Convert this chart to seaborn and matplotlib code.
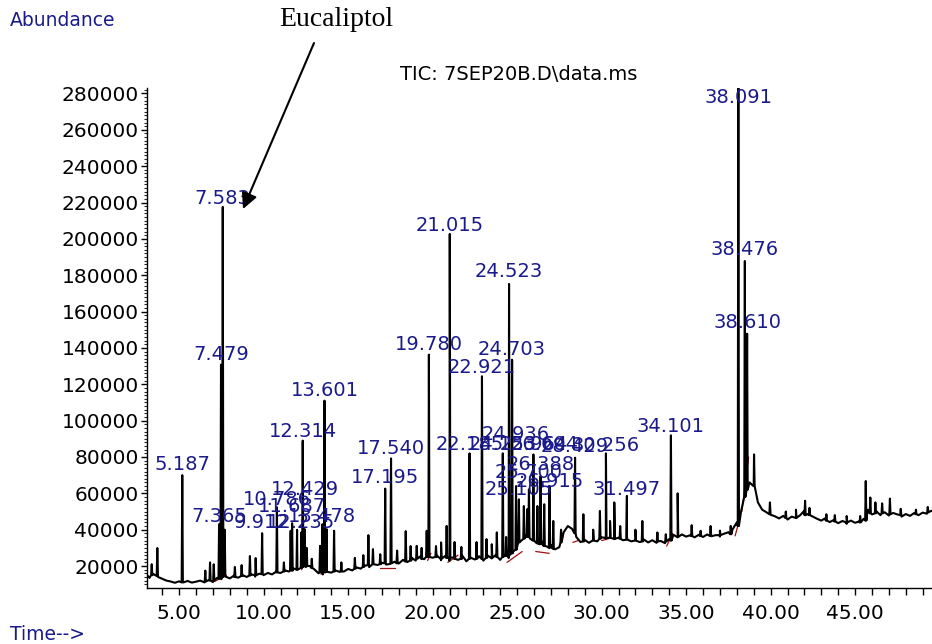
import numpy as np
import pandas as pd
import matplotlib
matplotlib.use('Agg')
import matplotlib.pyplot as plt
from matplotlib.ticker import MultipleLocator, FormatStrFormatter
import seaborn as sns

# noisy baseline of the TIC trace (time in min, abundance)
base_t = [3.00, 3.25, 3.50, 3.75, 4.00, 4.25, 4.50, 4.75, 5.00, 5.25,
          5.50, 5.75, 6.00, 6.25, 6.50, 6.75, 7.00, 7.25, 7.50, 7.75,
          8.00, 8.25, 8.50, 8.75, 9.00, 9.25, 9.50, 9.75, 10.00, 10.25,
          10.50, 10.75, 11.00, 11.25, 11.50, 11.75, 12.00, 12.25, 12.50, 12.75,
          13.00, 13.25, 13.50, 13.75, 14.00, 14.25, 14.50, 14.75, 15.00, 15.25,
          15.50, 15.75, 16.00, 16.25, 16.50, 16.75, 17.00, 17.25, 17.50, 17.75,
          18.00, 18.25, 18.50, 18.75, 19.00, 19.25, 19.50, 19.75, 20.00, 20.25,
          20.50, 20.75, 21.00, 21.25, 21.50, 21.75, 22.00, 22.25, 22.50, 22.75,
          23.00, 23.25, 23.50, 23.75, 24.00, 24.25, 24.50, 24.75, 25.00, 25.25,
          25.50, 25.75, 26.00, 26.25, 26.50, 26.75, 27.00, 27.25, 27.50, 27.75,
          28.00, 28.25, 28.50, 28.75, 29.00, 29.25, 29.50, 29.75, 30.00, 30.25,
          30.50, 30.75, 31.00, 31.25, 31.50, 31.75, 32.00, 32.25, 32.50, 32.75,
          33.00, 33.25, 33.50, 33.75, 34.00, 34.25, 34.50, 34.75, 35.00, 35.25,
          35.50, 35.75, 36.00, 36.25, 36.50, 36.75, 37.00, 37.25, 37.50, 37.75,
          38.00, 38.25, 38.50, 38.75, 39.00, 39.25, 39.50, 39.75, 40.00, 40.25,
          40.50, 40.75, 41.00, 41.25, 41.50, 41.75, 42.00, 42.25, 42.50, 42.75,
          43.00, 43.25, 43.50, 43.75, 44.00, 44.25, 44.50, 44.75, 45.00, 45.25,
          45.50, 45.75, 46.00, 46.25, 46.50, 46.75, 47.00, 47.25, 47.50, 47.75,
          48.00, 48.25, 48.50, 48.75, 49.00, 49.25, 49.50, 49.75]
base_v = [16000, 13500, 15500, 14000, 13000, 12000, 11500, 10800, 11600, 11000,
          11800, 10900, 11400, 12000, 11000, 12300, 11200, 13500, 12800, 14200,
          13200, 14800, 13600, 15000, 14000, 15400, 14200, 15800, 15000, 16200,
          15400, 17000, 16200, 17600, 17000, 18800, 18000, 20500, 19400, 20000,
          18200, 16000, 15400, 17200, 16400, 17600, 16800, 17000, 18400, 17600,
          19200, 18600, 20200, 19400, 21600, 20600, 21800, 20800, 21200, 22400,
          21400, 23400, 22200, 24600, 23000, 25200, 23800, 26400, 24600, 25800,
          23200, 25600, 22800, 24800, 23400, 25800, 22600, 24600, 23600, 25400,
          23000, 25800, 24200, 26200, 23400, 25600, 24400, 27800, 30500, 34000,
          36800, 35200, 34000, 32200, 33400, 30800, 31600, 29200, 30400, 38500,
          42000, 40500, 36000, 33200, 34400, 32800, 34800, 33600, 35800, 35000,
          36400, 34800, 35600, 34200, 35800, 33600, 34800, 33200, 34600, 33000,
          34200, 32800, 33800, 32600, 34800, 37200, 35800, 37400, 36200, 37000,
          35800, 37200, 36000, 37400, 36400, 37000, 36200, 37800, 38600, 40200,
          44000, 50000, 58000, 66000, 64000, 55000, 51000, 49600, 48200, 47400,
          46200, 47600, 45600, 47200, 46400, 48000, 50500, 48800, 47200, 46000,
          45000, 46400, 44200, 45400, 43600, 44800, 43200, 45000, 43800, 44600,
          46000, 51000, 48400, 50200, 48000, 49600, 47800, 49200, 48400, 47200,
          48600, 47600, 49200, 48000, 49400, 48800, 50400, 49600]

# peaks: retention time, apex abundance, abundance at the foot
peak_t = [3.38, 3.71, 5.187, 6.55, 6.83, 7.05, 7.365, 7.479, 7.583, 7.70,
          8.30, 8.70, 9.19, 9.53, 9.912, 10.786, 11.20, 11.60, 11.687, 11.98,
          12.235, 12.314, 12.429, 12.55, 12.85, 13.34, 13.478, 13.601, 13.73, 14.17,
          14.60, 15.40, 15.90, 16.20, 16.47, 16.90, 17.195, 17.540, 17.90, 18.41,
          18.70, 19.06, 19.35, 19.65, 19.780, 20.20, 20.50, 20.83, 21.015, 21.30,
          21.70, 22.185, 22.60, 22.921, 23.19, 23.50, 23.80, 24.153, 24.35, 24.523,
          24.703, 24.936, 25.105, 25.40, 25.60, 25.700, 25.964, 26.20, 26.388, 26.604,
          26.915, 27.14, 27.60, 28.429, 28.92, 29.50, 29.90, 30.256, 30.50, 30.75,
          31.10, 31.497, 32.00, 32.41, 33.30, 33.80, 34.101, 34.50, 35.33, 35.86,
          36.45, 37.00, 37.64, 38.091, 38.476, 38.610, 39.02, 39.96, 40.90, 41.50,
          42.04, 42.30, 43.30, 43.80, 44.50, 45.30, 45.63, 45.90, 46.20, 46.60,
          47.06, 47.70, 48.60, 49.30]
peak_top = [21000, 29900, 70000, 17500, 22000, 21000, 43000, 130800, 217600, 40000,
            19500, 20500, 25500, 24400, 38100, 52400, 22000, 39400, 43600, 39900,
            38600, 89000, 40300, 30000, 24000, 31100, 43000, 111000, 40300, 39400,
            22000, 24500, 26000, 37000, 29300, 26500, 62600, 79200, 28500, 39200,
            31000, 31100, 30000, 39400, 136300, 31000, 33000, 42100, 202700, 33200,
            30500, 82000, 33200, 124400, 34800, 32000, 38500, 82000, 36000, 175200,
            133500, 64000, 56700, 53000, 51300, 62200, 81400, 53000, 69500, 54000,
            64000, 44800, 40000, 79600, 48500, 40000, 50300, 82000, 44800, 55000,
            42000, 58600, 40000, 44800, 38500, 37500, 91900, 60000, 42500, 39400,
            42000, 39500, 42100, 300000, 187800, 147800, 81400, 55000, 50000, 51000,
            55900, 52000, 48500, 48000, 47500, 47500, 66800, 57700, 55000, 54500,
            57100, 51500, 51000, 52500]
peak_foot = [15000, 14500, 11000, 11500, 12000, 12000, 13000, 14000, 14000, 14500,
             14000, 14500, 14800, 15000, 15500, 16500, 17000, 17500, 17500, 18000,
             19000, 19500, 20000, 20000, 19000, 16500, 16500, 16500, 16800, 17000,
             17000, 18500, 19500, 20500, 21000, 21000, 21500, 21500, 21500, 22500,
             23000, 24000, 24000, 25000, 25000, 25000, 24000, 24500, 24500, 24000,
             24000, 24000, 24000, 24000, 24500, 24500, 25000, 25000, 25500, 26000,
             27000, 29000, 33000, 35000, 36000, 36000, 34000, 32500, 32000, 31000,
             30000, 29500, 33000, 38000, 33500, 34000, 35000, 35500, 35500, 35000,
             35000, 34500, 34000, 33500, 33500, 33500, 34000, 36000, 36500, 36500,
             36500, 37000, 37500, 42000, 58000, 62000, 64000, 48500, 46500, 46500,
             48000, 48000, 45000, 44500, 44000, 44000, 45000, 49000, 49000, 49000,
             48500, 48000, 48500, 49500]

# integration baselines (red): start time, start value, end time, end value
red_t0 = [7.10, 12.25, 13.40, 16.90, 19.70, 20.90, 24.40, 26.10, 28.30, 30.00, 33.85, 37.90, 38.30]
red_v0 = [11500, 18000, 15500, 19000, 23000, 22000, 22000, 28000, 33000, 34000, 31000, 36600, 50000]
red_t1 = [7.80, 12.45, 13.75, 17.80, 19.90, 21.50, 25.30, 26.90, 28.60, 30.40, 34.20, 38.20, 38.70]
red_v1 = [15000, 23000, 21000, 19000, 27000, 26000, 28000, 27000, 34000, 35000, 38000, 47000, 80000]

# labelled peaks (retention time text)
peak_labels = ['5.187', '7.583', '7.479', '7.365', '9.912', '10.786', '11.687', '12.314',
               '12.429', '12.235', '13.478', '13.601', '17.195', '17.540', '19.780', '21.015',
               '22.185', '22.921', '24.153', '24.523', '24.703', '24.936', '25.105', '25.700',
               '25.964', '26.388', '26.604', '26.915', '28.429', '30.256', '31.497', '34.101',
               '38.091', '38.476', '38.610']
# vertical placement of each label (layout)
label_y = [76000, 222400, 136300, 47400, 44100, 56800, 52900, 94000,
           62200, 44100, 47400, 116500, 68800, 84700, 141800, 207600,
           86900, 129200, 86900, 181800, 139000, 92400, 62200, 71600,
           86900, 76000, 86900, 66600, 85800, 86300, 62200, 96800,
           277800, 193900, 153800]

# build the trace: baseline points plus a narrow spike per peak
hw = 0.035
rows = list(zip(base_t, base_v))
for t, top, foot in zip(peak_t, peak_top, peak_foot):
    rows += [(t - hw, foot), (t, top), (t + hw, foot)]
df = pd.DataFrame(rows, columns=['time', 'abundance']).sort_values('time', kind='stable')

sns.set_style('ticks')
plt.rcParams['font.family'] = ['DejaVu Sans']

W, H = 932, 644
fig = plt.figure(figsize=(W / 100, H / 100), dpi=100)
ax = fig.add_axes([147 / W, 1 - 587.5 / H, 785 / W, 499.5 / H])

blue = '#1a1a8c'

for t0, v0, t1, v1 in zip(red_t0, red_v0, red_t1, red_v1):
    ax.plot([t0, t1], [v0, v1], color='#a01010', lw=0.9, zorder=1)

sns.lineplot(data=df, x='time', y='abundance', sort=False, estimator=None,
             color='black', linewidth=1.5, ax=ax, zorder=2)

for lab, ly in zip(peak_labels, label_y):
    ax.text(float(lab), ly, lab, color=blue, fontsize=14, ha='center', va='center', zorder=3)

ax.set_xlim(3.1, 49.55)
ax.set_ylim(8200, 283000)
ax.set_xlabel('')
ax.set_ylabel('')

ax.xaxis.set_major_locator(MultipleLocator(5))
ax.xaxis.set_minor_locator(MultipleLocator(1))
ax.xaxis.set_major_formatter(FormatStrFormatter('%.2f'))
ax.yaxis.set_major_locator(MultipleLocator(20000))
ax.yaxis.set_minor_locator(MultipleLocator(2000))
ax.yaxis.set_major_formatter(FormatStrFormatter('%d'))
ax.set_yticks(np.arange(20000, 280001, 20000))

ax.tick_params(axis='x', which='both', direction='out', length=5, width=1, labelsize=14.5,
               pad=7, colors='black')
ax.tick_params(axis='y', which='major', direction='out', length=4, width=1, labelsize=14.5,
               pad=2, colors='black')
ax.tick_params(axis='y', which='minor', direction='out', length=2, width=0.8)

sns.despine(ax=ax, top=True, right=True)
for sp in ['left', 'bottom']:
    ax.spines[sp].set_color('black')
    ax.spines[sp].set_linewidth(1)

fig.text(10 / W, 1 - 20 / H, 'Abundance', color=blue, fontsize=13.5, ha='left', va='center')
fig.text(10 / W, 1 - 634 / H, 'Time-->', color=blue, fontsize=13.5, ha='left', va='center')
fig.text(400 / W, 1 - 75 / H, 'TIC: 7SEP20B.D\\data.ms', color='black', fontsize=14,
         ha='left', va='center')
fig.text(336 / W, 1 - 20 / H, 'Eucaliptol', color='black', fontsize=20,
         family='Liberation Serif', ha='center', va='center')

ax.annotate('', xy=(243, H - 209), xytext=(314, H - 43),
            xycoords='figure pixels', textcoords='figure pixels',
            arrowprops=dict(arrowstyle='-|>', color='black', lw=1.5,
                            mutation_scale=24, shrinkA=0, shrinkB=0),
            annotation_clip=False, zorder=5)

fig.savefig('out.png', dpi=100)
